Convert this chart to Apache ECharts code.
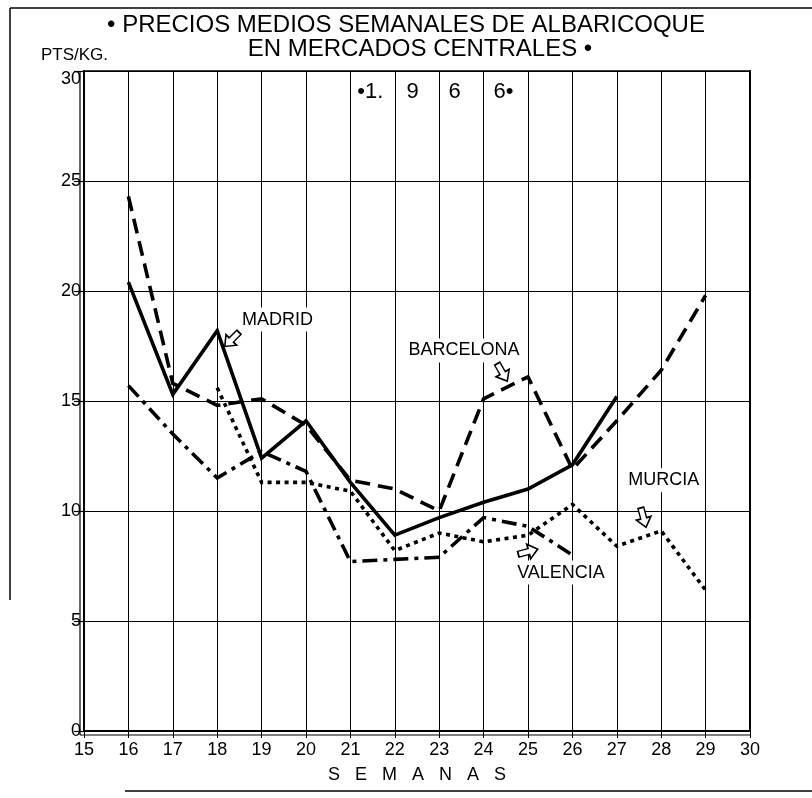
<!DOCTYPE html>
<html>
<head>
<meta charset="utf-8">
<script src="https://cdn.jsdelivr.net/npm/echarts@6/dist/echarts.min.js"></script>
<style>
  html, body { margin: 0; padding: 0; background: #fff; }
  #chart { width: 812px; height: 798px; }
</style>
</head>
<body>
<div id="chart"></div>
<script>
// semanas (eje x) y precios en pts/kg
const weeks = [16, 17, 18, 19, 20, 21, 22, 23, 24, 25, 26, 27, 28, 29]
const madrid = [20.4, 15.3, 18.2, 12.4, 14.1, 11.3, 8.9, 9.7, 10.4, 11.0, 12.1, 15.2]
const barcelona = [24.3, 15.8, 14.8, 15.1, 13.9, 11.4, 11.0, 10.0, 15.1, 16.1, 11.9, 14.1, 16.4, 19.8]
const valencia = [15.7, 13.5, 11.5, 12.7, 11.8, 7.7, 7.8, 7.9, 9.7, 9.3, 8.0]
const murciaWeeks = [18, 19, 20, 21, 22, 23, 24, 25, 26, 27, 28, 29]
const murcia = [15.6, 11.3, 11.3, 10.9, 8.2, 9.0, 8.6, 8.9, 10.3, 8.4, 9.1, 6.4]
const yearText = ['•1.', '9', '6', '6•']

const FONT = 'Liberation Sans'

const pairs = (xs, ys) => ys.map((v, i) => [xs[i], v])

const lineSeries = (name, data, type) => ({
  name,
  type: 'line',
  data,
  symbol: 'none',
  silent: true,
  z: 5,
  lineStyle: { color: '#000', width: 3.6, type, cap: 'butt', join: 'miter' }
})

// rótulos sobre el gráfico (símbolo invisible)
const textSeries = (data, fontSize, extra) => ({
  type: 'scatter',
  silent: true,
  symbol: 'rect',
  symbolSize: 1,
  z: 4,
  itemStyle: { color: 'rgba(0,0,0,0)', opacity: 1 },
  label: Object.assign({
    show: true, color: '#000', opacity: 1, fontSize, fontFamily: FONT,
    formatter: p => p.name
  }, extra),
  data
})

// flecha hueca
const ARROW = 'path://M5,0 L10,6 L7,6 L7,13 L3,13 L3,6 L0,6 Z'

const chart = echarts.init(document.getElementById('chart'))

chart.setOption({
  animation: false,
  backgroundColor: '#fff',
  grid: { left: 84, right: 62, top: 71, bottom: 67 },
  graphic: [
    {
      type: 'text', x: 406, y: 25,
      style: { text: '• PRECIOS MEDIOS SEMANALES DE ALBARICOQUE', font: '24px ' + FONT, fill: '#000', align: 'center', verticalAlign: 'middle' }
    },
    {
      type: 'text', x: 420, y: 49,
      style: { text: 'EN MERCADOS CENTRALES •', font: '24px ' + FONT, fill: '#000', align: 'center', verticalAlign: 'middle' }
    },
    {
      type: 'text', x: 41, y: 55,
      style: { text: 'PTS/KG.', font: '17px ' + FONT, fill: '#000', align: 'left', verticalAlign: 'middle' }
    },
    {
      type: 'text', x: 417, y: 775,
      style: { text: 'S   E   M   A   N   A   S', font: '18px ' + FONT, fill: '#000', align: 'center', verticalAlign: 'middle' }
    },
    { type: 'line', shape: { x1: 10, y1: 8, x2: 812, y2: 8 }, style: { stroke: '#000', lineWidth: 1.5 } },
    { type: 'line', shape: { x1: 10, y1: 8, x2: 10, y2: 600 }, style: { stroke: '#000', lineWidth: 1.5 } },
    { type: 'line', shape: { x1: 125, y1: 791, x2: 812, y2: 791 }, style: { stroke: '#000', lineWidth: 1.5 } },
    // segunda línea de los ejes (trazo doble)
    { type: 'line', shape: { x1: 80, y1: 71, x2: 80, y2: 735 }, style: { stroke: '#000', lineWidth: 1.2 } },
    { type: 'line', shape: { x1: 80, y1: 735, x2: 750, y2: 735 }, style: { stroke: '#000', lineWidth: 1.2 } }
  ],
  xAxis: [
    {
      type: 'value', min: 15, max: 30, interval: 1,
      axisLine: { show: true, onZero: false, lineStyle: { color: '#000', width: 2 } },
      axisTick: { show: true, length: 7, lineStyle: { color: '#000', width: 1 } },
      axisLabel: { color: '#000', fontSize: 18, fontFamily: FONT, margin: 10 },
      splitLine: { show: true, lineStyle: { color: '#000', width: 1 } }
    },
    {
      type: 'value', min: 15, max: 30, position: 'top',
      axisLine: { show: true, onZero: false, lineStyle: { color: '#000', width: 1.5 } },
      axisTick: { show: false }, axisLabel: { show: false }, splitLine: { show: false }
    }
  ],
  yAxis: [
    {
      type: 'value', min: 0, max: 30, interval: 5,
      axisLine: { show: true, onZero: false, lineStyle: { color: '#000', width: 2 } },
      axisTick: { show: true, length: 10, lineStyle: { color: '#000', width: 1.2 } },
      axisLabel: {
        color: '#000', fontSize: 18, fontFamily: FONT, margin: 3,
        formatter: v => (v === 30 ? '{top|30}' : String(v)),
        rich: { top: { fontSize: 18, fontFamily: FONT, color: '#000', padding: [16, 0, 0, 0] } }
      },
      splitLine: { show: true, lineStyle: { color: '#000', width: 1 } }
    },
    {
      type: 'value', min: 0, max: 30, position: 'right',
      axisLine: { show: true, onZero: false, lineStyle: { color: '#000', width: 2 } },
      axisTick: { show: false }, axisLabel: { show: false }, splitLine: { show: false }
    }
  ],
  series: [
    lineSeries('MADRID', pairs(weeks, madrid), 'solid'),
    lineSeries('BARCELONA', pairs(weeks, barcelona), [15, 8]),
    lineSeries('VALENCIA', pairs(weeks, valencia), [15, 6, 4, 6]),
    lineSeries('MURCIA', pairs(murciaWeeks, murcia), [4, 4.5]),
    textSeries([
      { name: 'MADRID', value: [18.5, 18.7] },
      { name: 'BARCELONA', value: [22.25, 17.3] },
      { name: 'MURCIA', value: [27.2, 11.4] },
      { name: 'VALENCIA', value: [24.7, 7.2] }
    ], 18, { position: 'right', distance: 0, backgroundColor: '#fff', padding: [3, 2] }),
    {
      // flechas huecas
      type: 'scatter',
      silent: true,
      symbol: ARROW,
      symbolSize: [15, 20],
      z: 6,
      itemStyle: { color: '#fff', borderColor: '#000', borderWidth: 1.6, opacity: 1 },
      data: [
        { value: [18.33, 17.8], symbolRotate: 135 },
        { value: [24.42, 16.3], symbolRotate: -150 },
        { value: [27.6, 9.7], symbolRotate: -165 },
        { value: [25.0, 8.15], symbolRotate: -75 }
      ]
    },
    textSeries([
      { name: yearText[0], value: [21.45, 29.05] },
      { name: yearText[1], value: [22.4, 29.05] },
      { name: yearText[2], value: [23.35, 29.05] },
      { name: yearText[3], value: [24.45, 29.05] }
    ], 22, { position: [0.5, 0.5], align: 'center', verticalAlign: 'middle' })
  ]
})
</script>
</body>
</html>
